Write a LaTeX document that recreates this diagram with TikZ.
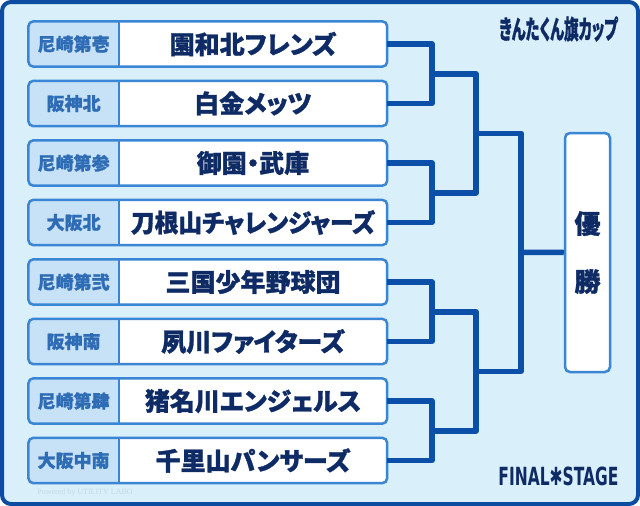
\documentclass[tikz,border=0pt]{standalone}
\usepackage{graphicx}
\usepackage{fontspec}
\setmainfont{Noto Sans CJK JP}[RawFeature=+palt,BoldFeatures={FakeBold=1.2}]
\newfontfamily\latinfont{DejaVu Sans}
\newfontfamily\creditfont{Liberation Serif}
\usetikzlibrary{positioning,backgrounds}
\definecolor{bgblue}{HTML}{D9EFF9}
\definecolor{frameblue}{HTML}{0D4DA1}
\definecolor{lineblue}{HTML}{0B4FA8}
\definecolor{boxblue}{HTML}{3A86D4}
\definecolor{labfill}{HTML}{C7E1F6}
\definecolor{labtext}{HTML}{2E6CB5}
\definecolor{navy}{HTML}{0E2B66}
\definecolor{faint}{HTML}{C4D9E6}
\begin{document}
\begin{tikzpicture}[x=1pt,y=-1pt,
    team/.style={minimum width=268pt,minimum height=45pt,inner sep=0pt,text=navy,
      font=\fontsize{25}{25}\selectfont\bfseries},
    lab/.style={minimum width=90pt,minimum height=45pt,inner sep=0pt,text=labtext,
      font=\fontsize{18}{18}\selectfont\bfseries},
    champ/.style={draw=boxblue,line width=2.5pt,fill=white,rounded corners=5pt,
      minimum width=45pt,minimum height=239pt,inner sep=0pt,align=center,text=navy,
      font=\fontsize{26}{58}\selectfont\bfseries},
    bracket/.style={draw=lineblue,line width=5.5pt,line join=round},
    boxline/.style={draw=boxblue,line width=2.5pt}]
    \useasboundingbox (0,0) rectangle (640,506);
    \begin{scope}[on background layer]
        \draw[draw=frameblue,fill=bgblue,line width=4pt,rounded corners=9pt] (2,2) rectangle (638,504);
    \end{scope}
    % teams, top to bottom
    \node[team] (t1) at (253,44) {園和北フレンズ};
    \node[lab,left=0pt of t1] (l1) {尼崎第壱};
    \node[team] (t2) at (253,103.5) {白金メッツ};
    \node[lab,left=0pt of t2] (l2) {阪神北};
    \node[team] (t3) at (253,163) {御園・武庫};
    \node[lab,left=0pt of t3] (l3) {尼崎第参};
    \node[team] (t4) at (253,222.5) {\scalebox{0.95}[1]{刀根山チャレンジャーズ}};
    \node[lab,left=0pt of t4] (l4) {大阪北};
    \node[team] (t5) at (253,282) {三国少年野球団};
    \node[lab,left=0pt of t5] (l5) {尼崎第弐};
    \node[team] (t6) at (253,341.5) {夙川ファイターズ};
    \node[lab,left=0pt of t6] (l6) {阪神南};
    \node[team] (t7) at (253,401) {猪名川エンジェルス};
    \node[lab,left=0pt of t7] (l7) {尼崎第肆};
    \node[team] (t8) at (253,460.5) {千里山パンサーズ};
    \node[lab,left=0pt of t8] (l8) {大阪中南};
    \begin{scope}[on background layer]
        \foreach \i in {1,...,8}{
            \fill[white,rounded corners=5pt] (l\i.north west) rectangle (t\i.south east);
            \begin{scope}
                \clip[rounded corners=5pt] (l\i.north west) rectangle (t\i.south east);
                \fill[labfill] (l\i.north west) rectangle (l\i.south east);
            \end{scope}
            \draw[boxline,rounded corners=5pt] (l\i.north west) rectangle (t\i.south east);
            \draw[boxline] (l\i.north east) -- (l\i.south east);
        }
    \end{scope}
    \node[champ] (win) at (587.5,252.5) {優\\勝};
    % bracket joins
    \coordinate (m1) at (432,73.75);
    \coordinate (m2) at (432,192.75);
    \coordinate (m3) at (432,311.75);
    \coordinate (m4) at (432,430.75);
    \coordinate (s1) at (476,133.25);
    \coordinate (s2) at (476,371.25);
    \coordinate (fin) at (521,252.25);
    \draw[bracket] (t1.east) -| (m1) |- (t2.east);
    \draw[bracket] (t3.east) -| (m2) |- (t4.east);
    \draw[bracket] (t5.east) -| (m3) |- (t6.east);
    \draw[bracket] (t7.east) -| (m4) |- (t8.east);
    \draw[bracket] (m1) -| (s1) |- (m2);
    \draw[bracket] (m3) -| (s2) |- (m4);
    \draw[bracket] (s1) -| (fin) |- (s2);
    \draw[bracket] (fin) -- (win.west);
    \node[text=navy,font=\fontsize{26}{26}\selectfont\bfseries] (title) at (558.5,29)
        {\scalebox{0.56}[1]{きんたくん旗カップ}};
    \node[text=navy,font=\latinfont\bfseries\fontsize{25}{25}\selectfont] (stage) at (558.5,476)
        {\scalebox{0.62}[1]{FINAL✱STAGE}};
    \node[text=faint,font=\creditfont\fontsize{8}{8}\selectfont] (credit) at (85,493)
        {Powered by UTILITY LABO};
\end{tikzpicture}
\end{document}
